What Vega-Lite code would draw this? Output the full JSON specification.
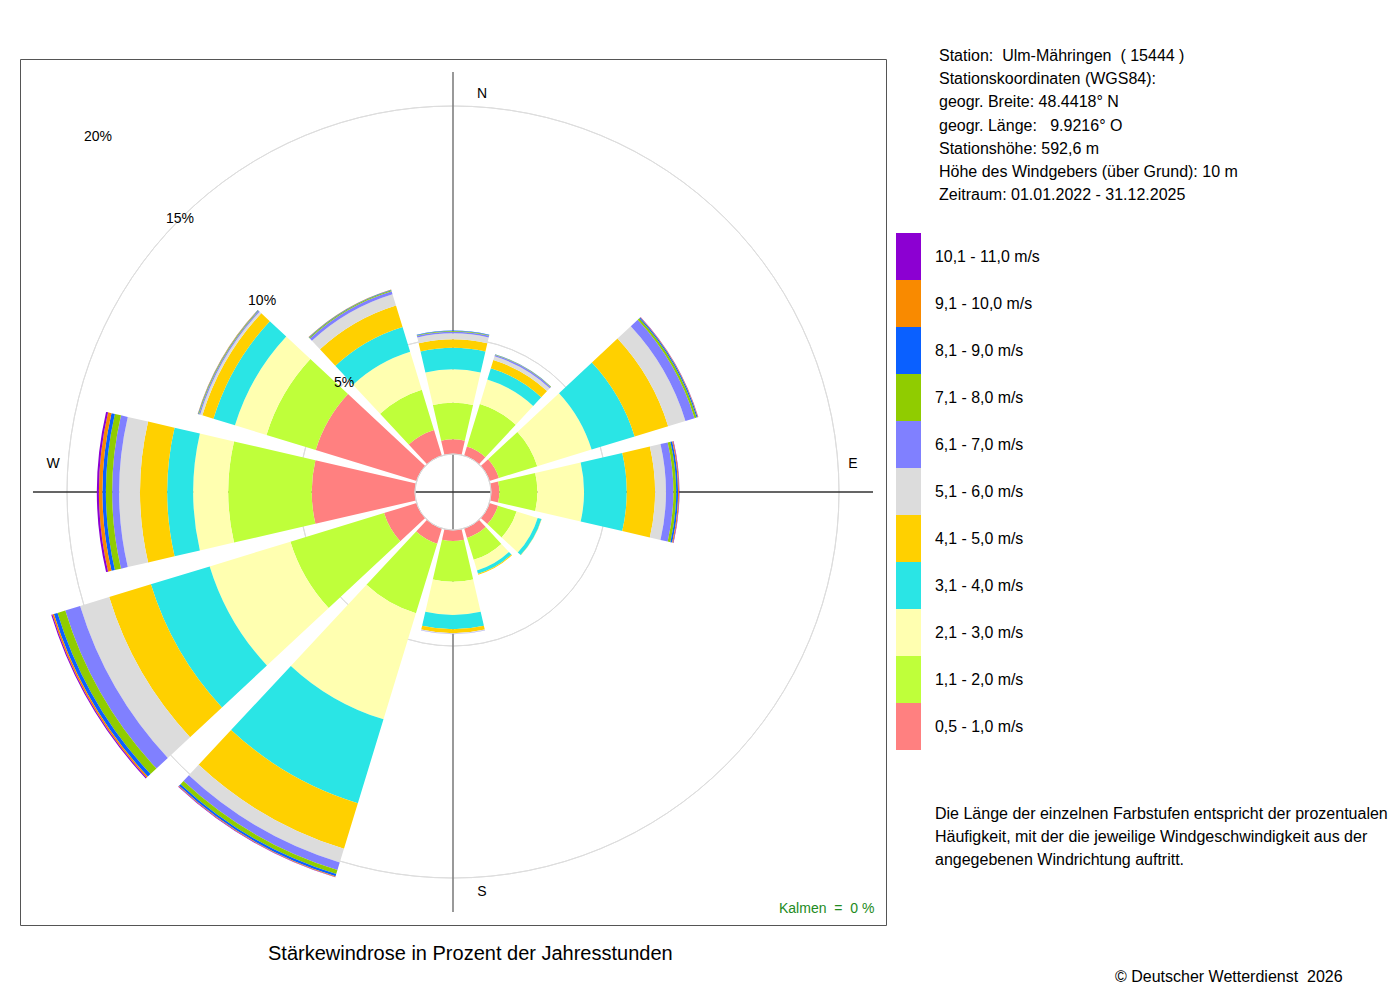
{
  "$schema": "https://vega.github.io/schema/vega-lite/v6.json",
  "width": 866,
  "height": 866,
  "autosize": {"type": "none"},
  "padding": {"left": 20, "top": 59, "right": 514, "bottom": 75},
  "background": "white",
  "config": {
    "style": {"view": {"stroke": "#555555", "strokeWidth": 1}},
    "font": "Liberation Sans"
  },
  "resolve": {
    "scale": {"stroke": "independent", "fill": "independent"},
    "legend": {"stroke": "independent", "fill": "independent"}
  },
  "layer": [
    {
      "data": {"values": [{"p": 5}, {"p": 10}, {"p": 15}, {"p": 20}, {"p": 25}]},
      "mark": {"type": "arc", "theta": 0, "theta2": 6.2832, "filled": false, "strokeWidth": 1, "clip": true},
      "encoding": {
        "radius": {"field": "p", "type": "quantitative", "scale": {"type": "linear", "domain": [0, 20], "range": [38, 502], "nice": false, "zero": false}},
        "stroke": {
          "datum": "a", "type": "nominal", "scale": {"range": ["#dddddd"]},
          "legend": {
            "orient": "none", "legendX": 919, "legendY": -11, "padding": 0,
            "title": [
              "Station:\u00a0\u00a0Ulm-Mähringen\u00a0\u00a0( 15444 )",
              "Stationskoordinaten (WGS84):",
              "geogr. Breite: 48.4418° N",
              "geogr. Länge:\u00a0\u00a0\u00a09.9216° O",
              "Stationshöhe: 592,6 m",
              "Höhe des Windgebers (über Grund): 10 m",
              "Zeitraum: 01.01.2022 - 31.12.2025"
            ],
            "titleFontSize": 16, "titleFontWeight": "normal", "titleColor": "#000000",
            "titleLineHeight": 23.2, "titleBaseline": "top", "titlePadding": 0, "titleLimit": 600,
            "symbolOpacity": 0, "labelOpacity": 0, "symbolSize": 1, "labelFontSize": 1
          }
        }
      }
    },
    {
      "data": {"values": [{"dir": 0}, {"dir": 180}]},
      "mark": {"type": "arc", "filled": false, "strokeWidth": 1.6},
      "encoding": {
        "theta": {"field": "dir", "type": "quantitative", "scale": {"domain": [0, 360], "range": [0, 6.283185], "nice": false}},
        "theta2": {"field": "dir"},
        "radius": {"datum": 16.466, "type": "quantitative", "scale": {"type": "linear", "domain": [0, 20], "range": [38, 502], "nice": false, "zero": false}},
        "radius2": {"datum": -1.638},
        "stroke": {
          "datum": "b", "type": "nominal", "scale": {"range": ["#808080"]},
          "legend": {
            "orient": "none", "legendX": 248, "legendY": 885, "padding": 0,
            "title": "Stärkewindrose in Prozent der Jahresstunden",
            "titleFontSize": 20, "titleFontWeight": "normal", "titleColor": "#000000",
            "titleBaseline": "top", "titlePadding": 0, "titleLimit": 700,
            "symbolOpacity": 0, "labelOpacity": 0, "symbolSize": 1, "labelFontSize": 1
          }
        }
      }
    },
    {
      "data": {"values": [{"dir": 90}, {"dir": 270}]},
      "mark": {"type": "arc", "filled": false, "strokeWidth": 1},
      "encoding": {
        "theta": {"field": "dir", "type": "quantitative", "scale": {"domain": [0, 360], "range": [0, 6.283185], "nice": false}},
        "theta2": {"field": "dir"},
        "radius": {"datum": 16.466, "type": "quantitative", "scale": {"type": "linear", "domain": [0, 20], "range": [38, 502], "nice": false, "zero": false}},
        "radius2": {"datum": -1.638},
        "stroke": {
          "datum": "c", "type": "nominal", "scale": {"range": ["#333333"]},
          "legend": {
            "orient": "none", "legendX": 915, "legendY": 747, "padding": 0,
            "title": [
              "Die Länge der einzelnen Farbstufen entspricht der prozentualen",
              "Häufigkeit, mit der die jeweilige Windgeschwindigkeit aus der",
              "angegebenen Windrichtung auftritt."
            ],
            "titleFontSize": 16, "titleFontWeight": "normal", "titleColor": "#000000",
            "titleLineHeight": 23, "titleBaseline": "top", "titlePadding": 0, "titleLimit": 700,
            "symbolOpacity": 0, "labelOpacity": 0, "symbolSize": 1, "labelFontSize": 1
          }
        }
      }
    },
    {
      "data": {
        "values": [
          {"dir": 0, "s00": 0.63, "s01": 1.58, "s02": 1.44, "s03": 0.93, "s04": 0.36, "s05": 0.26, "s06": 0.07, "s07": 0.03, "s08": 0.02, "s09": 0, "s10": 0},
          {"dir": 30, "s00": 0.41, "s01": 1.92, "s02": 1.10, "s03": 0.51, "s04": 0.37, "s05": 0.17, "s06": 0.06, "s07": 0.02, "s08": 0.01, "s09": 0, "s10": 0},
          {"dir": 60, "s00": 0.43, "s01": 1.73, "s02": 2.45, "s03": 1.94, "s04": 1.51, "s05": 0.78, "s06": 0.41, "s07": 0.09, "s08": 0.05, "s09": 0.02, "s10": 0.01},
          {"dir": 90, "s00": 0.36, "s01": 1.64, "s02": 2.01, "s03": 1.84, "s04": 1.22, "s05": 0.47, "s06": 0.32, "s07": 0.12, "s08": 0.08, "s09": 0.04, "s10": 0.02},
          {"dir": 120, "s00": 0.39, "s01": 0.84, "s02": 0.95, "s03": 0.17, "s04": 0.01, "s05": 0, "s06": 0, "s07": 0, "s08": 0, "s09": 0, "s10": 0},
          {"dir": 150, "s00": 0.43, "s01": 0.99, "s02": 0.48, "s03": 0.15, "s04": 0.04, "s05": 0, "s06": 0, "s07": 0, "s08": 0, "s09": 0, "s10": 0},
          {"dir": 180, "s00": 0.47, "s01": 1.76, "s02": 1.43, "s03": 0.62, "s04": 0.17, "s05": 0.03, "s06": 0.01, "s07": 0, "s08": 0, "s09": 0, "s10": 0},
          {"dir": 210, "s00": 0.69, "s01": 3.14, "s02": 4.78, "s03": 3.78, "s04": 2.05, "s05": 0.62, "s06": 0.34, "s07": 0.18, "s08": 0.10, "s09": 0.03, "s10": 0.02},
          {"dir": 240, "s00": 1.47, "s01": 4.22, "s02": 3.64, "s03": 2.65, "s04": 1.88, "s05": 1.31, "s06": 0.67, "s07": 0.35, "s08": 0.16, "s09": 0.07, "s10": 0.05},
          {"dir": 270, "s00": 4.45, "s01": 3.60, "s02": 1.51, "s03": 1.12, "s04": 1.17, "s05": 0.90, "s06": 0.30, "s07": 0.27, "s08": 0.15, "s09": 0.15, "s10": 0.09},
          {"dir": 300, "s00": 4.55, "s01": 2.22, "s02": 1.42, "s03": 0.97, "s04": 0.50, "s05": 0.10, "s06": 0.05, "s07": 0.03, "s08": 0.02, "s09": 0.01, "s10": 0},
          {"dir": 330, "s00": 1.16, "s01": 1.81, "s02": 1.71, "s03": 1.12, "s04": 0.97, "s05": 0.51, "s06": 0.13, "s07": 0.05, "s08": 0.02, "s09": 0.01, "s10": 0}
        ]
      },
      "transform": [
        {"fold": ["s00", "s01", "s02", "s03", "s04", "s05", "s06", "s07", "s08", "s09", "s10"]},
        {"stack": "value", "groupby": ["dir"], "sort": [{"field": "key", "order": "ascending"}], "as": ["r0", "r1"]}
      ],
      "mark": {"type": "arc", "thetaOffset": -0.2269, "theta2Offset": 0.2269},
      "encoding": {
        "theta": {"field": "dir", "type": "quantitative", "scale": {"domain": [0, 360], "range": [0, 6.283185], "nice": false}},
        "theta2": {"field": "dir"},
        "radius": {"field": "r0", "type": "quantitative", "scale": {"type": "linear", "domain": [0, 20], "range": [38, 502], "nice": false, "zero": false}},
        "radius2": {"field": "r1"},
        "color": {
          "field": "key", "type": "nominal",
          "scale": {
            "domain": ["s10", "s09", "s08", "s07", "s06", "s05", "s04", "s03", "s02", "s01", "s00"],
            "range": ["#8C00D2", "#F98A00", "#0A60FF", "#90CC00", "#8080FF", "#DCDCDC", "#FFD000", "#2AE5E5", "#FFFFB0", "#BFFF3A", "#FF8080"]
          },
          "legend": {
            "orient": "none", "legendX": 865, "legendY": 174, "title": null, "padding": 0,
            "symbolType": "M-0.532,-1H0.532V1H-0.532Z", "symbolSize": 2209,
            "symbolStrokeWidth": 0, "rowPadding": 0, "labelOffset": 3,
            "labelFontSize": 15.9, "labelColor": "#000000",
            "labelExpr": "{'s00': '0,5 - 1,0 m/s', 's01': '1,1 - 2,0 m/s', 's02': '2,1 - 3,0 m/s', 's03': '3,1 - 4,0 m/s', 's04': '4,1 - 5,0 m/s', 's05': '5,1 - 6,0 m/s', 's06': '6,1 - 7,0 m/s', 's07': '7,1 - 8,0 m/s', 's08': '8,1 - 9,0 m/s', 's09': '9,1 - 10,0 m/s', 's10': '10,1 - 11,0 m/s'}[datum.value]"
          }
        }
      }
    },
    {
      "data": {"values": [{"p": 0}]},
      "mark": {"type": "arc", "theta": 0, "theta2": 6.2832, "filled": false, "strokeWidth": 1},
      "encoding": {
        "radius": {"field": "p", "type": "quantitative", "scale": {"type": "linear", "domain": [0, 20], "range": [38, 502], "nice": false, "zero": false}},
        "stroke": {
          "datum": "d", "type": "nominal", "scale": {"range": ["#d9d9d9"]},
          "legend": {
            "orient": "none", "legendX": 759, "legendY": 843, "padding": 0,
            "title": "Kalmen\u00a0\u00a0=\u00a0\u00a00 %",
            "titleFontSize": 14, "titleFontWeight": "normal", "titleColor": "#228B22",
            "titleBaseline": "top", "titlePadding": 0, "titleLimit": 300,
            "symbolOpacity": 0, "labelOpacity": 0, "symbolSize": 1, "labelFontSize": 1
          }
        }
      }
    },
    {
      "data": {"values": [{"p": 5, "lab": "5%"}, {"p": 10, "lab": "10%"}, {"p": 15, "lab": "15%"}, {"p": 20, "lab": "20%"}, {"p": 25, "lab": "25%"}]},
      "mark": {"type": "text", "fontSize": 14, "color": "#000000", "clip": true},
      "encoding": {
        "theta": {"datum": 315, "type": "quantitative", "scale": {"domain": [0, 360], "range": [0, 6.283185], "nice": false}},
        "radius": {"field": "p", "type": "quantitative", "scale": {"type": "linear", "domain": [0, 20], "range": [38, 502], "nice": false, "zero": false}},
        "text": {"field": "lab"}
      }
    },
    {
      "data": {"values": [{"lab": "N", "dir": 0}, {"lab": "S", "dir": 180}]},
      "mark": {"type": "text", "fontSize": 14, "dx": 29, "dy": 1},
      "encoding": {
        "theta": {"field": "dir", "type": "quantitative", "scale": {"domain": [0, 360], "range": [0, 6.283185], "nice": false}},
        "radius": {"datum": 15.54, "type": "quantitative", "scale": {"type": "linear", "domain": [0, 20], "range": [38, 502], "nice": false, "zero": false}},
        "text": {"field": "lab"},
        "fill": {
          "datum": "e", "type": "nominal", "scale": {"range": ["#000000"]},
          "legend": {
            "orient": "none", "legendX": 1095, "legendY": 910, "padding": 0,
            "title": "© Deutscher Wetterdienst\u00a0\u00a02026",
            "titleFontSize": 16, "titleFontWeight": "normal", "titleColor": "#000000",
            "titleBaseline": "top", "titlePadding": 0, "titleLimit": 400,
            "symbolOpacity": 0, "labelOpacity": 0, "symbolSize": 1, "labelFontSize": 1
          }
        }
      }
    },
    {
      "data": {"values": [{"lab": "E", "dir": 90}, {"lab": "W", "dir": 270}]},
      "mark": {"type": "text", "fontSize": 14, "color": "#000000", "dy": -28},
      "encoding": {
        "theta": {"field": "dir", "type": "quantitative", "scale": {"domain": [0, 360], "range": [0, 6.283185], "nice": false}},
        "radius": {"datum": 15.6, "type": "quantitative", "scale": {"type": "linear", "domain": [0, 20], "range": [38, 502], "nice": false, "zero": false}},
        "text": {"field": "lab"}
      }
    }
  ]
}
